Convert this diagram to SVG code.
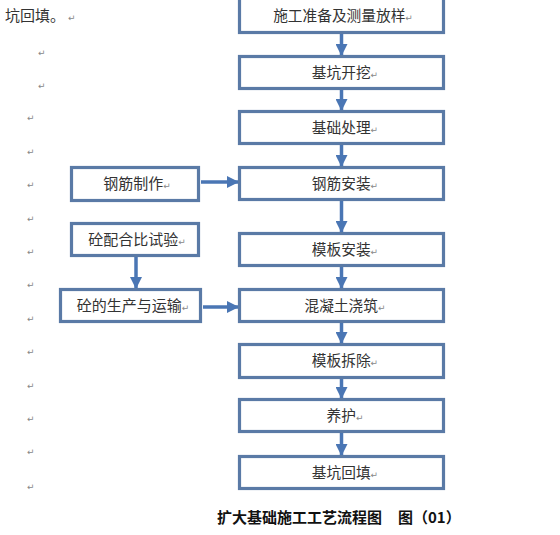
<svg xmlns="http://www.w3.org/2000/svg" width="560" height="535" viewBox="0 0 560 535">
<defs>
<style>
.box{fill:#ffffff;stroke:#5a7aa6;stroke-width:3.2}
.t{font-family:"Noto Sans CJK SC","Noto Sans",sans-serif;font-size:14.7px;fill:#333333;text-anchor:middle}
.pm{font-family:"DejaVu Sans",sans-serif;font-size:9px;fill:#888888}
.conn{stroke:#4a76b4;stroke-width:3.5;fill:none}
.cap{font-family:"Noto Sans CJK SC",sans-serif;font-size:15px;font-weight:bold;fill:#111111}
</style>
<marker id="ah" markerUnits="userSpaceOnUse" markerWidth="12" markerHeight="12" viewBox="0 0 12 12" refX="11" refY="6" orient="auto">
<path d="M0,0 L12,6 L0,12 Z" fill="#4a76b4"/>
</marker>
</defs>
<rect width="560" height="535" fill="#ffffff"/>

<text x="5" y="21" font-family="Noto Sans CJK SC,sans-serif" font-size="15" fill="#333">坑回填。<tspan class="pm" dx="3">↵</tspan></text>
<g class="pm">
<text x="38" y="56">↵</text>
<text x="38" y="89">↵</text>
<text x="27" y="121">↵</text>
<text x="27" y="155">↵</text>
<text x="27" y="188">↵</text>
<text x="27" y="222">↵</text>
<text x="27" y="255">↵</text>
<text x="27" y="288">↵</text>
<text x="27" y="322">↵</text>
<text x="27" y="355">↵</text>
<text x="27" y="389">↵</text>
<text x="27" y="422">↵</text>
<text x="27" y="455">↵</text>
<text x="27" y="490">↵</text>
</g>

<g id="connectors">
<line class="conn" x1="341.5" y1="33" x2="341.5" y2="55" marker-end="url(#ah)"/>
<line class="conn" x1="341.5" y1="90" x2="341.5" y2="110" marker-end="url(#ah)"/>
<line class="conn" x1="341.5" y1="145" x2="341.5" y2="166" marker-end="url(#ah)"/>
<line class="conn" x1="341.5" y1="201" x2="341.5" y2="232" marker-end="url(#ah)"/>
<line class="conn" x1="341.5" y1="267" x2="341.5" y2="288" marker-end="url(#ah)"/>
<line class="conn" x1="341.5" y1="323" x2="341.5" y2="343" marker-end="url(#ah)"/>
<line class="conn" x1="341.5" y1="379" x2="341.5" y2="398" marker-end="url(#ah)"/>
<line class="conn" x1="341.5" y1="433" x2="341.5" y2="455" marker-end="url(#ah)"/>
<line class="conn" x1="201" y1="182" x2="238" y2="182" marker-end="url(#ah)"/>
<line class="conn" x1="136" y1="257" x2="136" y2="288" marker-end="url(#ah)"/>
<line class="conn" x1="203" y1="307" x2="238" y2="307" marker-end="url(#ah)"/>
</g>

<g id="n1"><rect class="box" x="239.5" y="-2" width="204" height="34.5"/><text class="t" x="343" y="21">施工准备及测量放样<tspan class="pm">↵</tspan></text></g>
<g id="n2"><rect class="box" x="239.5" y="56.5" width="204" height="32"/><text class="t" x="345" y="78">基坑开挖<tspan class="pm">↵</tspan></text></g>
<g id="n3"><rect class="box" x="239.5" y="111.5" width="204" height="32"/><text class="t" x="345" y="133">基础处理<tspan class="pm">↵</tspan></text></g>
<g id="n4"><rect class="box" x="239.5" y="167.5" width="204" height="32"/><text class="t" x="345" y="189">钢筋安装<tspan class="pm">↵</tspan></text></g>
<g id="n5"><rect class="box" x="239.5" y="233.5" width="204" height="32"/><text class="t" x="345" y="255">模板安装<tspan class="pm">↵</tspan></text></g>
<g id="n6"><rect class="box" x="239.5" y="289.5" width="204" height="32"/><text class="t" x="345" y="311">混凝土浇筑<tspan class="pm">↵</tspan></text></g>
<g id="n7"><rect class="box" x="239.5" y="344.5" width="204" height="33"/><text class="t" x="345" y="366">模板拆除<tspan class="pm">↵</tspan></text></g>
<g id="n8"><rect class="box" x="239.5" y="399.5" width="204" height="32"/><text class="t" x="345" y="421">养护<tspan class="pm">↵</tspan></text></g>
<g id="n9"><rect class="box" x="239.5" y="456.5" width="204" height="32"/><text class="t" x="345" y="478">基坑回填<tspan class="pm">↵</tspan></text></g>

<g id="n10"><rect class="box" x="71.5" y="167.5" width="127" height="33"/><text class="t" x="137" y="189" style="font-size:15px">钢筋制作<tspan class="pm">↵</tspan></text></g>
<g id="n11"><rect class="box" x="71.5" y="223.5" width="127" height="32"/><text class="t" x="137" y="245" style="font-size:15px">砼配合比试验<tspan class="pm">↵</tspan></text></g>
<g id="n12"><rect class="box" x="60.5" y="289.5" width="140" height="32"/><text class="t" x="133" y="311" style="font-size:15px">砼的生产与运输<tspan class="pm">↵</tspan></text></g>

<text class="cap" x="217" y="523">扩大基础施工工艺流程图</text>
<text class="cap" x="398" y="523">图（01）</text>
</svg>
